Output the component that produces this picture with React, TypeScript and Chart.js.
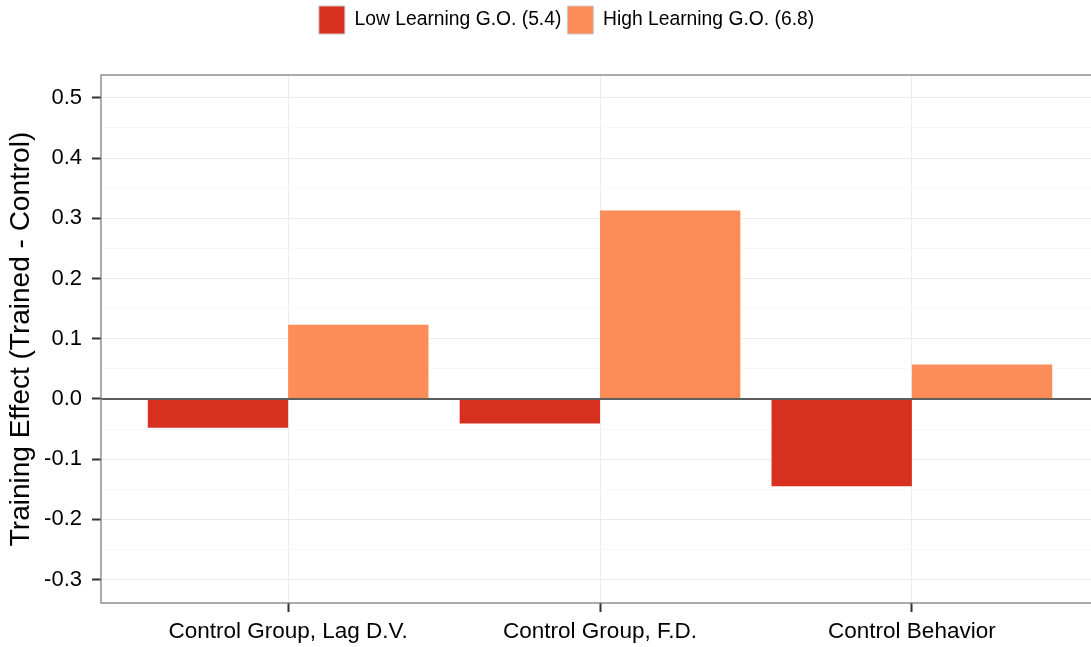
import React, { useEffect, useRef } from "react";
import { Chart, registerables } from "chart.js";

Chart.register(...registerables);

const categories = ["Control Group, Lag D.V.", "Control Group, F.D.", "Control Behavior"];
const lowLabel = "Low Learning G.O. (5.4)";
const highLabel = "High Learning G.O. (6.8)";
const lowValues = [-0.048, -0.041, -0.145];
const highValues = [0.123, 0.313, 0.057];
const yTicks = [-0.3, -0.25, -0.2, -0.15, -0.1, -0.05, 0, 0.05, 0.1, 0.15, 0.2, 0.25, 0.3, 0.35, 0.4, 0.45, 0.5];
const yMin = -0.339;
const yMax = 0.538;
const yTitle = "Training Effect (Trained - Control)";

const LOW_COLOR = "#D7301F";
const HIGH_COLOR = "#FC8D59";
const FONT = "'Liberation Sans', Arial, sans-serif";

const isMajor = (v: number) => Math.abs(v * 10 - Math.round(v * 10)) < 1e-6;

const panelPlugin = {
  id: "panelDecor",
  afterDatasetsDraw(chart: any) {
    const { ctx, chartArea, scales } = chart;
    const y0 = scales.y.getPixelForValue(0);
    ctx.save();
    ctx.strokeStyle = "#5E5E5E";
    ctx.lineWidth = 2;
    ctx.beginPath();
    ctx.moveTo(chartArea.left, y0);
    ctx.lineTo(chartArea.right, y0);
    ctx.stroke();
    ctx.strokeStyle = "#7F7F7F";
    ctx.lineWidth = 1.3;
    ctx.strokeRect(chartArea.left, chartArea.top, chartArea.right - chartArea.left, chartArea.bottom - chartArea.top);
    ctx.restore();
  },
};

export default function App() {
  const ref = useRef<HTMLCanvasElement>(null);
  useEffect(() => {
    if (!ref.current) return;
    const chart = new Chart(ref.current, {
      type: "bar",
      data: {
        datasets: [
          {
            label: lowLabel,
            data: lowValues.map((v, i) => ({ x: i + 1, y: v })),
            backgroundColor: LOW_COLOR,
            borderWidth: 0,
            xAxisID: "x",
            yAxisID: "y",
          },
          {
            label: highLabel,
            data: highValues.map((v, i) => ({ x: i + 1, y: v })),
            backgroundColor: HIGH_COLOR,
            borderWidth: 0,
            xAxisID: "x",
            yAxisID: "y",
          },
        ],
      },
      options: {
        responsive: false,
        animation: false,
        devicePixelRatio: 1,
        layout: { padding: 0 },
        datasets: { bar: { categoryPercentage: 0.9, barPercentage: 1.0, grouped: true } },
        plugins: {
          tooltip: { enabled: false },
          legend: {
            position: "top",
            fullSize: true,
            labels: {
              boxWidth: 26,
              boxHeight: 28,
              padding: 6,
              color: "#000",
              font: { family: FONT, size: 19.3 },
              generateLabels: (c: any) =>
                c.data.datasets.map((d: any, i: number) => ({
                  text: d.label,
                  fillStyle: d.backgroundColor,
                  strokeStyle: "#CCCCCC",
                  lineWidth: 1,
                  hidden: false,
                  datasetIndex: i,
                  fontColor: "#000",
                })),
            },
          },
        },
        scales: {
          x: {
            type: "linear",
            min: 0.4,
            max: 3.6,
            offset: false,
            afterBuildTicks: (s: any) => {
              s.ticks = [1, 2, 3].map((v) => ({ value: v }));
            },
            afterFit: (s: any) => {
              s.height = 44;
            },
            border: { display: false },
            grid: {
              offset: false,
              color: "#EBEBEB",
              lineWidth: 1,
              tickColor: "#333333",
              tickWidth: 2,
              tickLength: 9,
            },
            ticks: {
              autoSkip: false,
              maxRotation: 0,
              color: "#000",
              padding: 6,
              font: { family: FONT, size: 22.5 },
              callback: (v: any) => categories[Math.round(Number(v)) - 1] ?? "",
            },
          },
          y: {
            type: "linear",
            min: yMin,
            max: yMax,
            afterBuildTicks: (s: any) => {
              s.ticks = yTicks.map((v) => ({ value: v }));
            },
            afterFit: (s: any) => {
              s.width = 101;
            },
            border: { display: false },
            grid: {
              color: (c: any) => (isMajor(c.tick.value) ? "#EBEBEB" : "#F7F7F7"),
              lineWidth: 1,
              tickColor: (c: any) => (isMajor(c.tick.value) ? "#333333" : "rgba(0,0,0,0)"),
              tickWidth: 2,
              tickLength: 9,
            },
            ticks: {
              autoSkip: false,
              color: "#000",
              padding: 10,
              font: { family: FONT, size: 22 },
              callback: (v: any) => (isMajor(Number(v)) ? Number(v).toFixed(1) : ""),
            },
            title: {
              display: true,
              text: yTitle,
              color: "#000",
              font: { family: FONT, size: 28 },
              padding: { top: 4, bottom: 0 },
            },
          },
          top: {
            type: "linear",
            position: "top",
            display: true,
            grid: { display: false },
            border: { display: false },
            ticks: { display: false },
            afterFit: (s: any) => {
              s.height = 31;
            },
          },
          rpad: {
            type: "linear",
            position: "right",
            display: true,
            grid: { display: false },
            border: { display: false },
            ticks: { display: false },
            afterFit: (s: any) => {
              s.width = 34;
            },
          },
        },
      },
      plugins: [panelPlugin],
    } as any);
    return () => chart.destroy();
  }, []);
  return (
    <div style={{ position: "fixed", left: 0, top: 0, width: 1091, height: 647, overflow: "hidden", background: "#fff" }}>
      <canvas ref={ref} width={1133} height={647} style={{ display: "block" }} />
    </div>
  );
}
